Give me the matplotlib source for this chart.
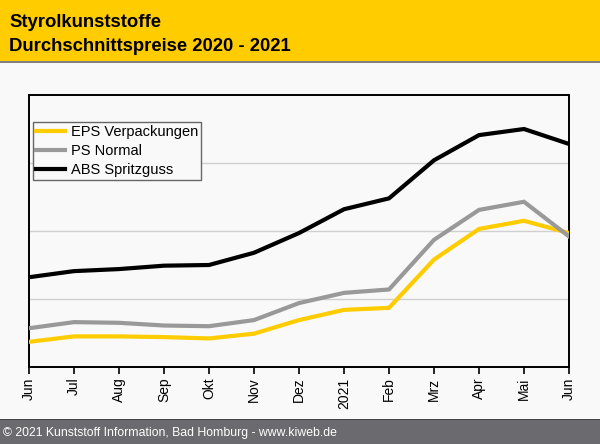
import matplotlib
matplotlib.use("Agg")
import matplotlib.pyplot as plt
from matplotlib.patches import Rectangle
from matplotlib import font_manager

months = ["Jun", "Jul", "Aug", "Sep", "Okt", "Nov", "Dez", "2021",
          "Feb", "Mrz", "Apr", "Mai", "Jun"]
eps = [0.37, 0.45, 0.45, 0.44, 0.42, 0.49, 0.69, 0.84, 0.87, 1.58, 2.03, 2.15, 1.97]
ps = [0.57, 0.66, 0.65, 0.61, 0.60, 0.69, 0.94, 1.09, 1.14, 1.87, 2.31, 2.43, 1.92]
abs_ = [1.32, 1.41, 1.44, 1.49, 1.50, 1.68, 1.97, 2.32, 2.48, 3.04, 3.41, 3.50, 3.28]
series = [("EPS Verpackungen", eps, "#ffcc00"),
          ("PS Normal", ps, "#999999"),
          ("ABS Spritzguss", abs_, "#000000")]

title1 = "Styrolkunststoffe"
title2 = "Durchschnittspreise 2020 - 2021"
footer = "\u00a9 2021 Kunststoff Information, Bad Homburg - www.kiweb.de"

plt.rcParams['font.family'] = ['Liberation Sans', 'DejaVu Sans']

names = {f.name for f in font_manager.fontManager.ttflist}
if "Liberation Sans Narrow" in names:
    foot_family = ["Liberation Sans Narrow", "DejaVu Sans"]
    foot_size = 10.6
else:
    foot_family = ["Liberation Sans", "DejaVu Sans"]
    foot_size = 8.8

W, H = 600, 444
fig = plt.figure(figsize=(W / 100, H / 100), dpi=100, facecolor="#f9f9f9")

# header band
fig.patches.append(Rectangle((0, 1 - 61 / H), 1, 61 / H, transform=fig.transFigure,
                             facecolor="#ffcc00", edgecolor="none", zorder=0))
fig.patches.append(Rectangle((0, 1 - 63 / H), 1, 2 / H, transform=fig.transFigure,
                             facecolor="#7f7f7f", edgecolor="none", zorder=0))
fig.text(9 / W, 1 - 26.7 / H, title1, fontsize=13.3, fontweight="bold",
         va="baseline", ha="left", color="black")
fig.text(9 / W, 1 - 50.7 / H, title2, fontsize=13.3, fontweight="bold",
         va="baseline", ha="left", color="black")

# footer band
fig.patches.append(Rectangle((0, 0), 1, 25 / H, transform=fig.transFigure,
                             facecolor="#6b6b6f", edgecolor="none", zorder=0))
fig.patches.append(Rectangle((0, 24 / H), 1, 1.5 / H, transform=fig.transFigure,
                             facecolor="#444448", edgecolor="none", zorder=0))
fig.text(3 / W, 8 / H, footer, fontsize=foot_size, family=foot_family,
         color="white", va="baseline", ha="left")

ax = fig.add_axes([29 / W, 1 - 367 / H, 540 / W, 272 / H])
ax.set_facecolor("#f9f9f9")
x = list(range(len(months)))
for name, vals, col in series:
    ax.plot(x, vals, color=col, lw=3.0, label=name, solid_joinstyle="miter", zorder=3)

ax.set_xlim(0, len(months) - 1)
ax.set_ylim(0, 4)
ax.set_yticks([1, 2, 3])
ax.yaxis.grid(True, color="#d0d0d0", lw=1.0)
ax.tick_params(axis="y", left=False, labelleft=False)
ax.set_xticks(x)
ax.set_xticklabels(months, rotation=90, fontsize=10)
ax.tick_params(axis="x", direction="out", length=5, width=1.2, pad=2.5, colors="black")
for s in ax.spines.values():
    s.set_color("black")
    s.set_linewidth(1.4)

leg = ax.legend(loc="upper left", bbox_to_anchor=(4 / 540, 1 - 27 / 272),
                frameon=True, fancybox=False, fontsize=10.5, handlelength=2.0,
                handletextpad=0.4, borderpad=0.2, labelspacing=0.34,
                borderaxespad=0.0)
leg.get_frame().set_edgecolor("#666666")
leg.get_frame().set_facecolor("#f9f9f9")
leg.get_frame().set_linewidth(1.0)
leg.get_frame().set_alpha(1)

fig.savefig("out.png", dpi=100, facecolor=fig.get_facecolor())
